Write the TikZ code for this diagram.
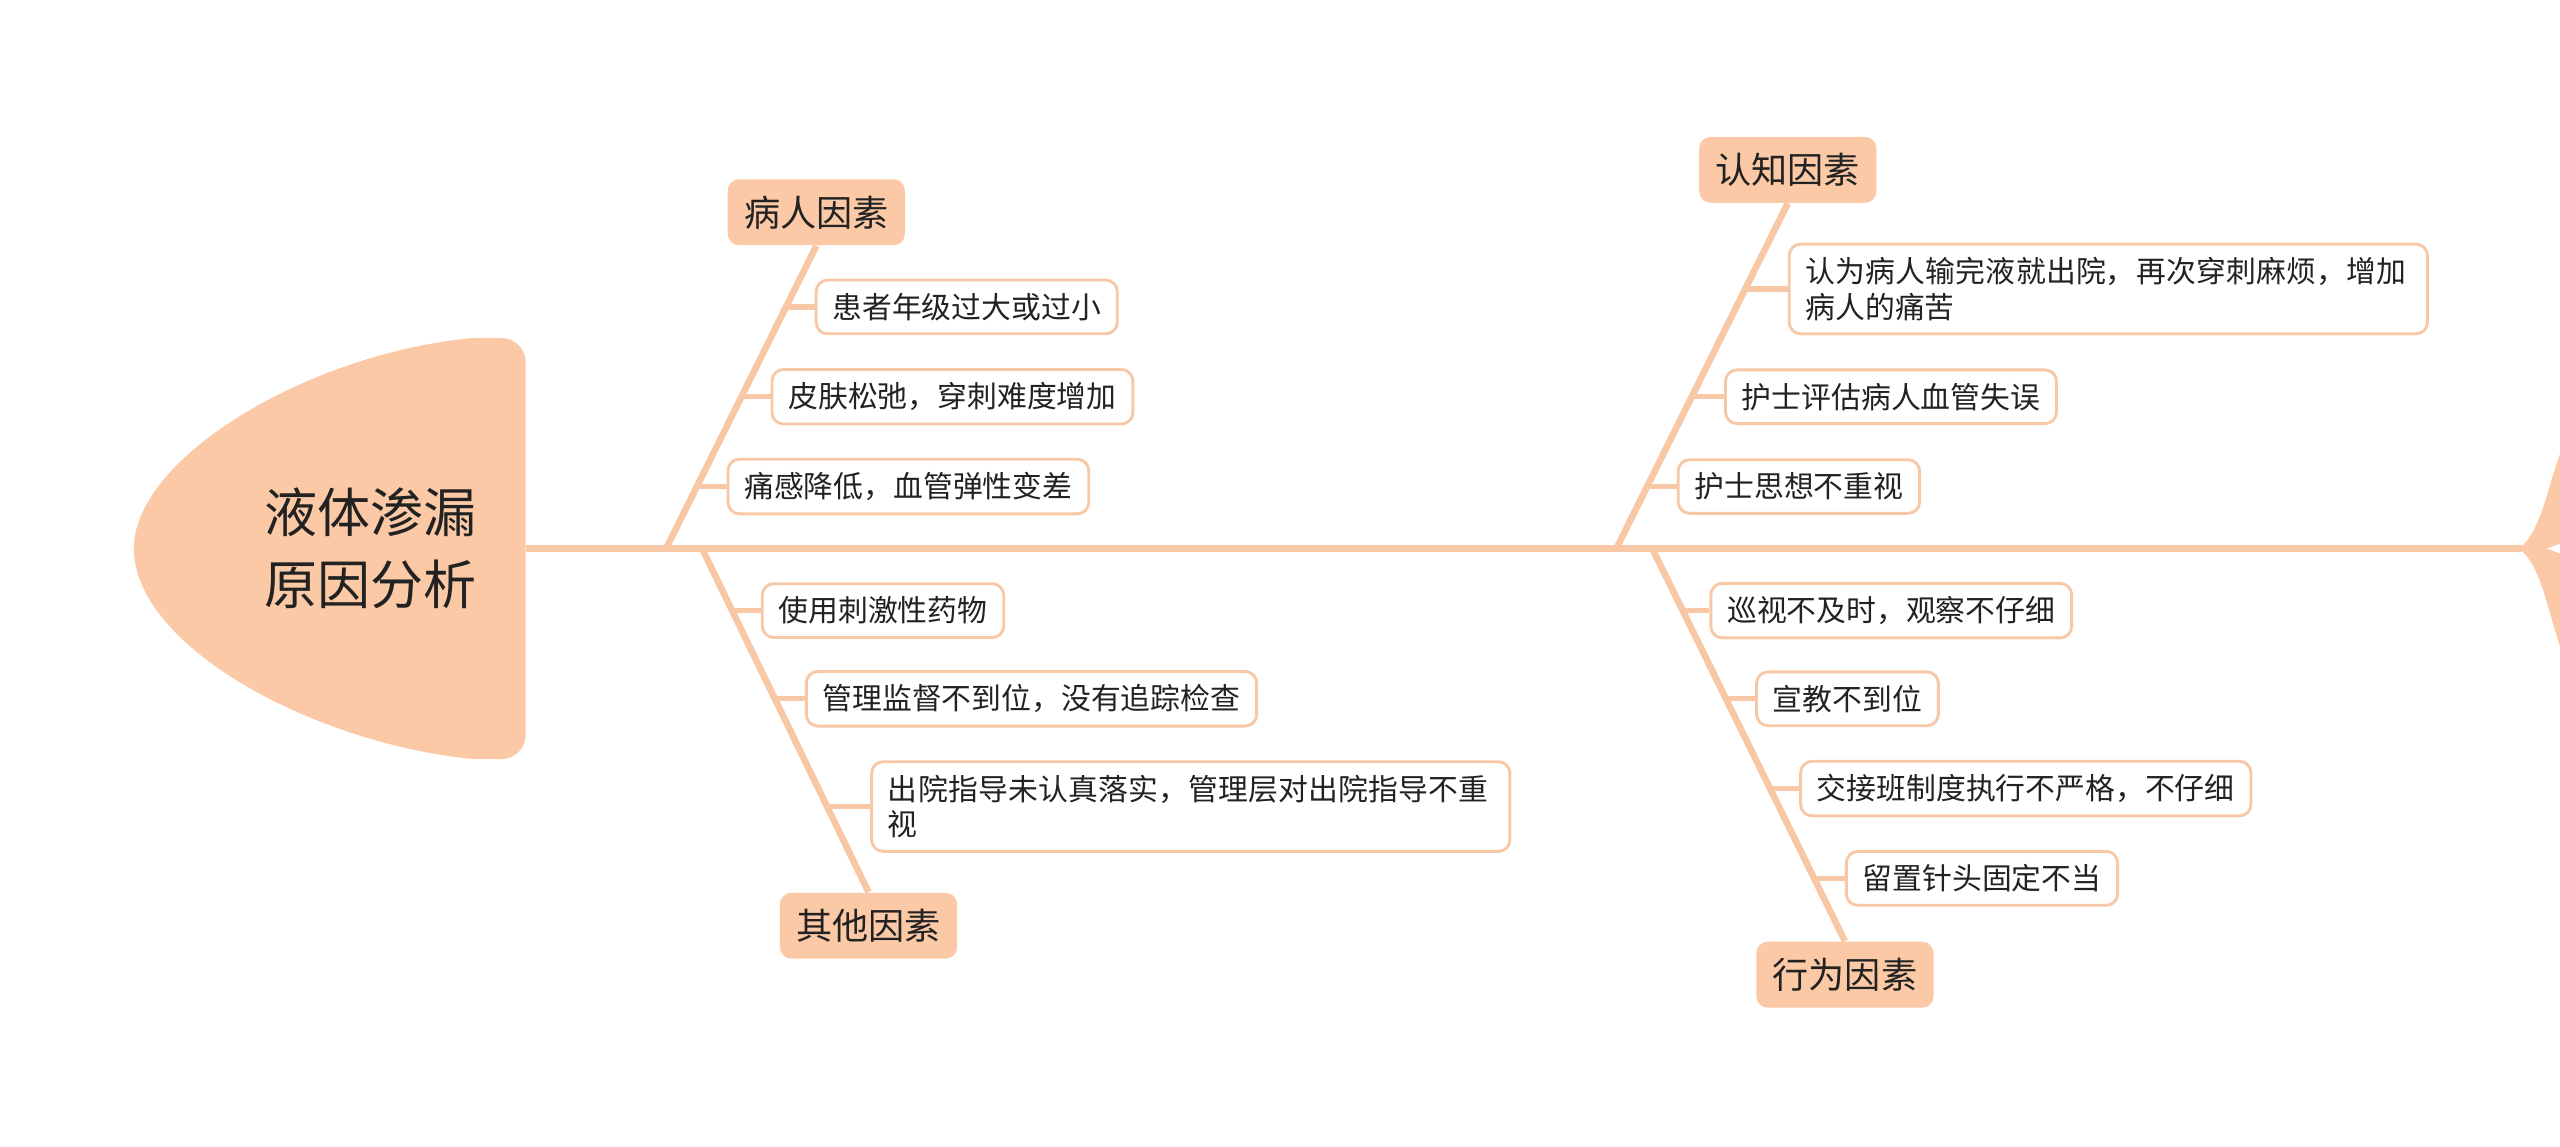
\documentclass[tikz,border=0pt]{standalone}
\usepackage{fontspec}
\setmainfont{Noto Sans CJK SC}
\XeTeXlinebreaklocale "zh"
\XeTeXlinebreakskip=0pt plus 1pt
\definecolor{fishline}{HTML}{F8C8A6}
\definecolor{fishfill}{HTML}{FBC9A5}
\definecolor{fishtext}{HTML}{222222}
\tikzset{
  bone/.style={draw=fishline, line width=2.3pt},
  tick/.style={draw=fishline, line width=1.8pt},
  mainbox/.style={fill=fishfill, rounded corners=4pt, font=\fontsize{12.6}{15}\selectfont,
    text=fishtext, inner xsep=0.2cm, inner ysep=0.2cm, anchor=center},
  itembox/.style={draw=fishline, line width=1pt, fill=white, rounded corners=4pt,
    font=\fontsize{10.4}{12.5}\selectfont, text=fishtext, inner xsep=0.2cm, inner ysep=0.16cm, anchor=west},
  longbox/.style={itembox, text width=7.42cm, align=left}
}
\begin{document}
\begin{tikzpicture}[x=0.02cm, y=-0.02cm]
    \useasboundingbox (0,0) rectangle (1568,702);

    % head and tail
    \fill[fishfill] (290,207) [rounded corners=0.3cm] -- (322,207) -- (322,465) [sharp corners] -- (290,465)
        .. controls (190,455) and (82,395) .. (82,336)
        .. controls (82,280) and (190,216) .. (290,207);
    \node[font=\fontsize{18.5}{25}\selectfont, text=fishtext, align=left] (head) at (227,336) {液体渗漏\\原因分析};
    \coordinate (spineL) at (322,336);
    \coordinate (spineR) at (1545,336);
    \fill[fishfill] (1543,336) .. controls (1556,326) and (1560,300) .. (1568,278)
        -- (1568,396) .. controls (1560,372) and (1556,346) .. (1543,336) -- cycle;
    \fill[white] (1560,336) -- (1568,333) -- (1568,339) -- cycle;
    \path[bone] (spineL) -- (spineR);

    % main bones
    \node[mainbox] (m1) at (500,130) {病人因素};
    \node[mainbox] (m2) at (532,567) {其他因素};
    \node[mainbox] (m3) at (1095,104) {认知因素};
    \node[mainbox] (m4) at (1130,597) {行为因素};
    \coordinate (j1) at (408,336);
    \coordinate (j2) at (430,336);
    \coordinate (j3) at (990,336);
    \coordinate (j4) at (1012,336);
    \path[bone] (m1.south) -- (j1);
    \path[bone] (m2.north) -- (j2);
    \path[bone] (m3.south) -- (j3);
    \path[bone] (m4.north) -- (j4);

    % items
    \node[itembox] (a1) at (499,188) {患者年级过大或过小};
    \node[itembox] (a2) at (472,243) {皮肤松弛，穿刺难度增加};
    \node[itembox] (a3) at (445,298) {痛感降低，血管弹性变差};
    \node[itembox] (b1) at (466,374) {使用刺激性药物};
    \node[itembox] (b2) at (493,428) {管理监督不到位，没有追踪检查};
    \node[longbox] (b3) at (533,494) {出院指导未认真落实，管理层对出院指导不重视};
    \node[longbox] (c1) at (1095,177) {认为病人输完液就出院，再次穿刺麻烦，增加病人的痛苦};
    \node[itembox] (c2) at (1056,243) {护士评估病人血管失误};
    \node[itembox] (c3) at (1027,298) {护士思想不重视};
    \node[itembox] (d1) at (1047,374) {巡视不及时，观察不仔细};
    \node[itembox] (d2) at (1075,428) {宣教不到位};
    \node[itembox] (d3) at (1102,483) {交接班制度执行不严格，不仔细};
    \node[itembox] (d4) at (1130,538) {留置针头固定不当};

    \coordinate (ka1) at (482,188);
    \coordinate (ka2) at (454,243);
    \coordinate (ka3) at (427,298);
    \coordinate (kb1) at (448,374);
    \coordinate (kb2) at (475,428);
    \coordinate (kb3) at (507,494);
    \coordinate (kc1) at (1070,177);
    \coordinate (kc2) at (1037,243);
    \coordinate (kc3) at (1009,298);
    \coordinate (kd1) at (1031,374);
    \coordinate (kd2) at (1057,428);
    \coordinate (kd3) at (1085,483);
    \coordinate (kd4) at (1112,538);
    \foreach \n in {a1,a2,a3,b1,b2,b3,c1,c2,c3,d1,d2,d3,d4}
        \path[tick] (k\n) -- (\n.west);
\end{tikzpicture}
\end{document}
